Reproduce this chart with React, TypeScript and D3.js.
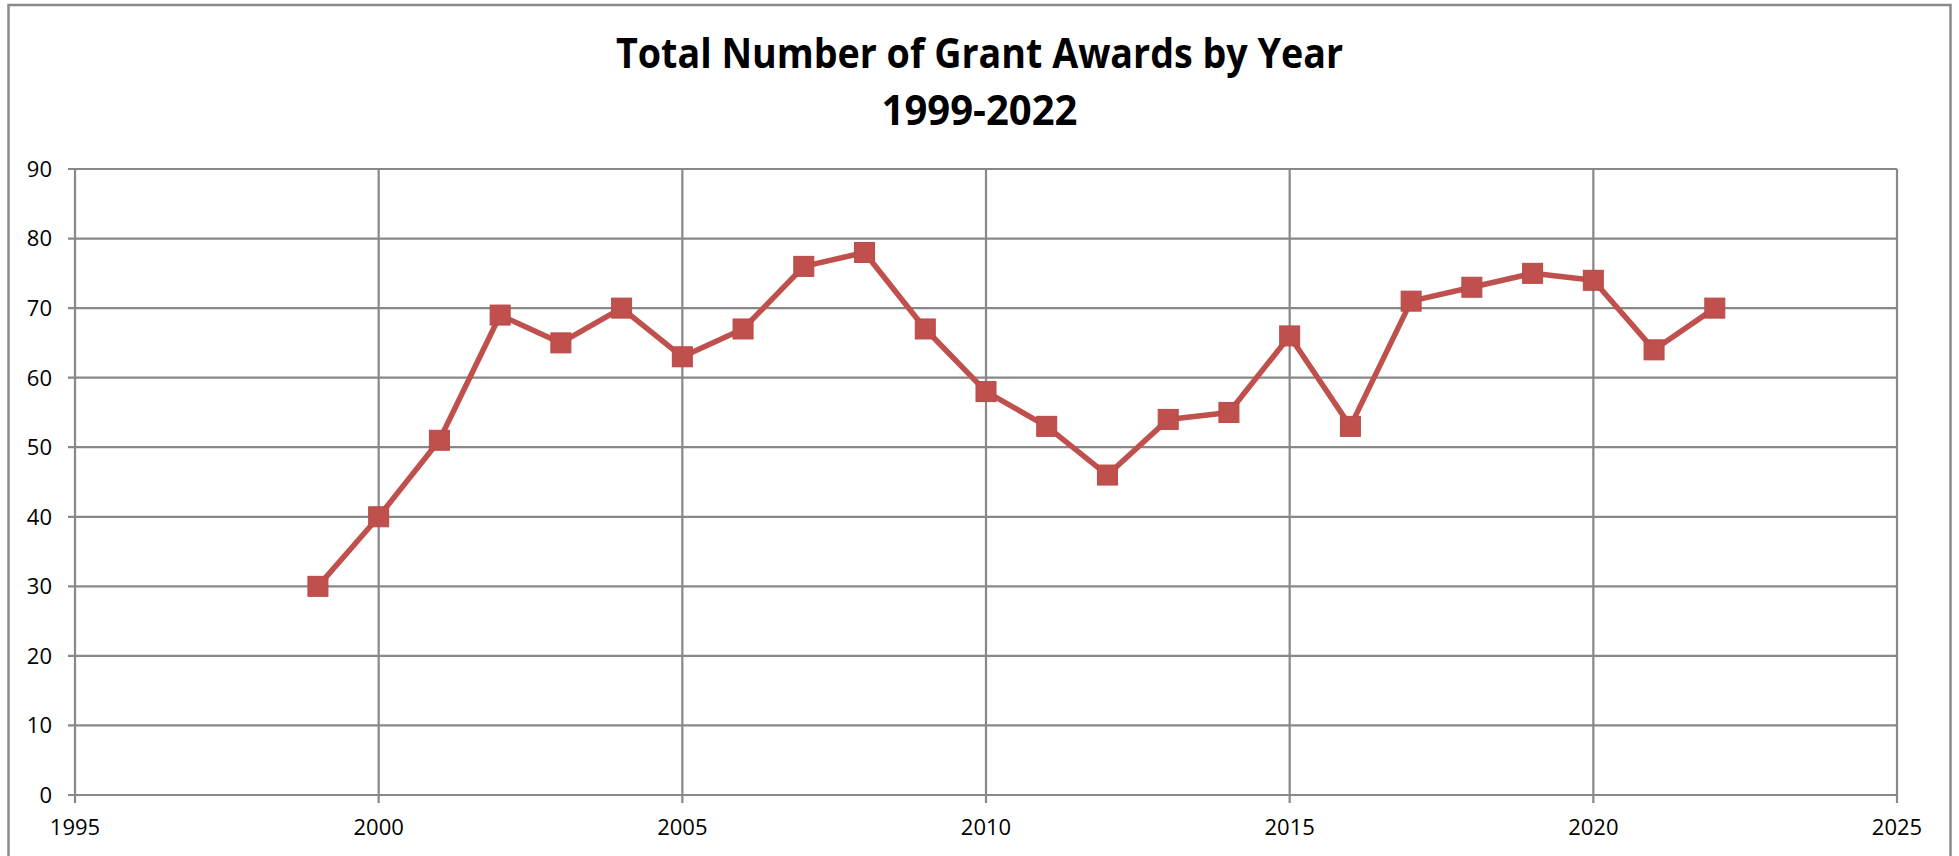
import { useRef, useEffect } from "react";
import * as d3 from "d3";

const YEARS = [
  1999, 2000, 2001, 2002, 2003, 2004, 2005, 2006, 2007, 2008, 2009, 2010,
  2011, 2012, 2013, 2014, 2015, 2016, 2017, 2018, 2019, 2020, 2021, 2022,
];
const AWARDS = [
  30, 40, 51, 69, 65, 70, 63, 67, 76, 78, 67, 58,
  53, 46, 54, 55, 66, 53, 71, 73, 75, 74, 64, 70,
];
const X_TICKS = [1995, 2000, 2005, 2010, 2015, 2020, 2025];
const Y_TICKS = [0, 10, 20, 30, 40, 50, 60, 70, 80, 90];
const TITLE = ["Total Number of Grant Awards by Year", "1999-2022"];

const W = 1959;
const H = 856;
const RED = "#C0504D";
const GRID = "#888888";
const FONT = "'Open Sans', 'Noto Sans', sans-serif";

export default function App() {
  const svgRef = useRef<SVGSVGElement>(null);

  useEffect(() => {
    if (!svgRef.current) return;
    const svg = d3.select(svgRef.current);
    svg.selectAll("*").remove();

    const margin = { top: 169, right: 62, bottom: 61, left: 75 };
    const width = W - margin.left - margin.right;
    const height = H - margin.top - margin.bottom;

    // outer frame
    svg.append("rect")
      .attr("x", 8.5).attr("y", 5).attr("width", 1942).attr("height", 860)
      .attr("fill", "#fff").attr("stroke", "#8A8A8A").attr("stroke-width", 2.5);

    // title
    svg.append("text")
      .attr("x", 979.5).attr("y", 68)
      .attr("text-anchor", "middle")
      .attr("font-family", FONT).attr("font-weight", 700).attr("font-size", 42)
      .attr("textLength", 727).attr("lengthAdjust", "spacingAndGlyphs")
      .text(TITLE[0]);
    svg.append("text")
      .attr("x", 979.5).attr("y", 125)
      .attr("text-anchor", "middle")
      .attr("font-family", FONT).attr("font-weight", 700).attr("font-size", 42)
      .attr("textLength", 196).attr("lengthAdjust", "spacingAndGlyphs")
      .text(TITLE[1]);

    const g = svg.append("g").attr("transform", `translate(${margin.left},${margin.top})`);

    const x = d3.scaleLinear().domain([1995, 2025]).range([0, width]);
    const y = d3.scaleLinear().domain([0, 90]).range([height, 0]);

    // horizontal gridlines
    g.append("g")
      .selectAll("line")
      .data(Y_TICKS)
      .join("line")
      .attr("x1", -7).attr("x2", width)
      .attr("y1", (d) => y(d)).attr("y2", (d) => y(d))
      .attr("stroke", GRID).attr("stroke-width", 2.2);

    // vertical gridlines
    g.append("g")
      .selectAll("line")
      .data(X_TICKS)
      .join("line")
      .attr("x1", (d) => x(d)).attr("x2", (d) => x(d))
      .attr("y1", 0).attr("y2", height + 8)
      .attr("stroke", GRID).attr("stroke-width", 2.2);

    // y labels
    g.append("g")
      .selectAll("text")
      .data(Y_TICKS)
      .join("text")
      .attr("x", -23).attr("y", (d) => y(d))
      .attr("dy", "0.36em")
      .attr("text-anchor", "end")
      .attr("font-family", FONT).attr("font-size", 22).attr("fill", "#000")
      .text((d) => `${d}`);

    // x labels
    g.append("g")
      .selectAll("text")
      .data(X_TICKS)
      .join("text")
      .attr("x", (d) => x(d)).attr("y", height + 40)
      .attr("text-anchor", "middle")
      .attr("font-family", FONT).attr("font-size", 22).attr("fill", "#000")
      .text((d) => `${d}`);

    const points = YEARS.map((yr, i) => ({ yr, v: AWARDS[i] }));

    const line = d3.line<{ yr: number; v: number }>()
      .x((d) => x(d.yr))
      .y((d) => y(d.v));

    g.append("path")
      .datum(points)
      .attr("d", line)
      .attr("fill", "none")
      .attr("stroke", RED)
      .attr("stroke-width", 5.5)
      .attr("stroke-linejoin", "round");

    const s = 20;
    g.append("g")
      .selectAll("rect")
      .data(points)
      .join("rect")
      .attr("x", (d) => x(d.yr) - s / 2)
      .attr("y", (d) => y(d.v) - s / 2)
      .attr("width", s).attr("height", s)
      .attr("fill", RED)
      .attr("stroke", "#B94A47").attr("stroke-width", 1);
  }, []);

  return (
    <svg
      ref={svgRef}
      width={W}
      height={H}
      style={{ position: "absolute", left: 0, top: 0, display: "block" }}
    />
  );
}
